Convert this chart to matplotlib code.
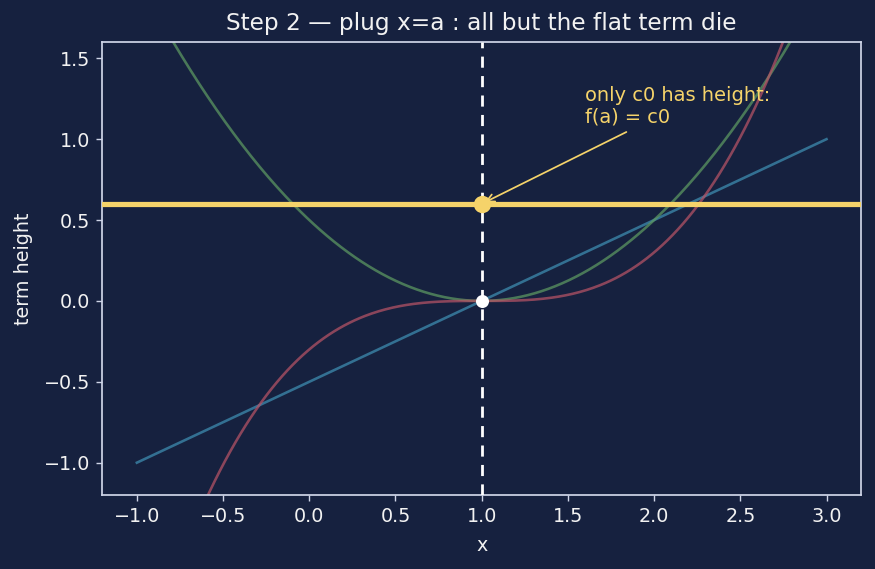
import numpy as np
import matplotlib
matplotlib.use("Agg")
import matplotlib.pyplot as plt

# Taylor terms around x = a
a = 1.0
c0, c1, c2, c3 = 0.6, 0.5, 0.5, 0.3
x_lo, x_hi = -1.0, 3.0

bg = "#16213f"
fg = "#f2f2f2"
spine = "#cfd5e8"
yellow = "#f5d36a"

plt.rcParams.update({
    "figure.facecolor": bg,
    "axes.facecolor": bg,
    "axes.edgecolor": spine,
    "axes.labelcolor": fg,
    "xtick.color": spine,
    "ytick.color": spine,
    "xtick.labelcolor": fg,
    "ytick.labelcolor": fg,
    "font.size": 11,
    "axes.linewidth": 1.0,
})

x = np.linspace(x_lo, x_hi, 400)
h = x - a

fig, ax = plt.subplots(figsize=(7.0, 4.552), dpi=125)
fig.subplots_adjust(left=0.117, right=0.984, top=0.926, bottom=0.13)

ax.plot(x, c1 * h, color="#3f8fb3", lw=1.5, alpha=0.72)
ax.plot(x, c2 * h**2, color="#5e9a62", lw=1.5, alpha=0.72)
ax.plot(x, c3 * h**3, color="#b85466", lw=1.5, alpha=0.72)
ax.axhline(c0, color=yellow, lw=3.0, zorder=3)
ax.axvline(a, color="white", lw=1.6, ls=(0, (4, 3)), zorder=4)
ax.plot([a], [c0], "o", color=yellow, ms=9, zorder=5)
ax.plot([a], [0], "o", color="white", ms=6.5, zorder=5)

ax.annotate("only c0 has height:\nf(a) = c0", xy=(a, c0), xytext=(a + 0.6, c0 + 0.5),
            color=yellow, fontsize=11.2,
            arrowprops=dict(arrowstyle="->", color=yellow, lw=1.0))

ax.set_xlim(-1.2, 3.2)
ax.set_ylim(-1.2, 1.6)
ax.set_xticks(np.arange(-1.0, 3.01, 0.5))
ax.set_yticks(np.arange(-1.0, 1.51, 0.5))
ax.set_xlabel("x", labelpad=5.5)
ax.set_ylabel("term height", labelpad=6)
ax.set_title("Step 2 \u2014 plug x=a : all but the flat term die", color=fg, fontsize=13.4, pad=7)

plt.savefig("out.png", dpi=125, facecolor=bg)
